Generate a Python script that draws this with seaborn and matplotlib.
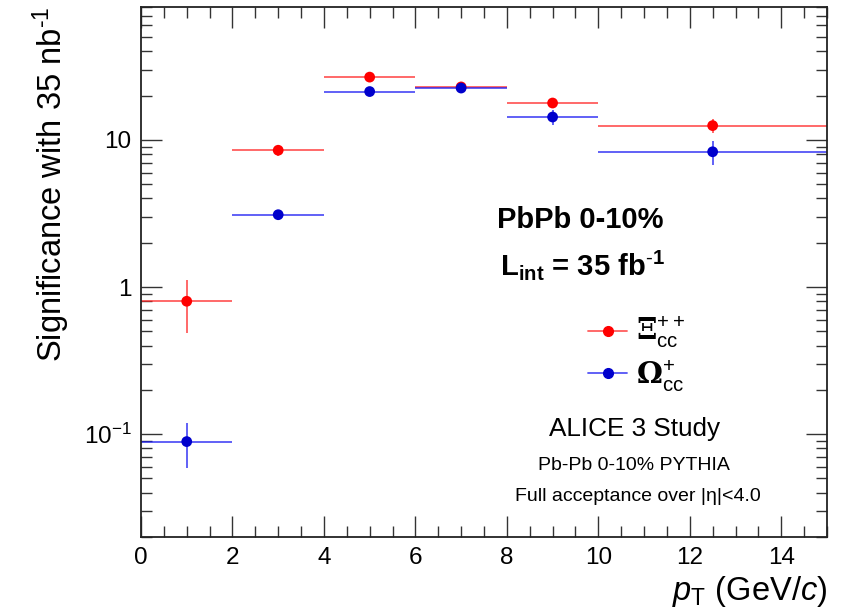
import numpy as np
import pandas as pd
import matplotlib
matplotlib.use("Agg")
import matplotlib.pyplot as plt
from matplotlib.lines import Line2D
from matplotlib.ticker import FixedLocator, MultipleLocator, NullFormatter
import seaborn as sns

# pT bins (GeV/c)
bin_low = [0, 2, 4, 6, 8, 10]
bin_high = [2, 4, 6, 8, 10, 15]
bin_center = [1, 3, 5, 7, 9, 12.5]

# Expected significance per bin
xi_sig = [0.80, 8.5, 26.7, 22.9, 17.8, 12.5]
xi_err = [0.31, 0.7, 1.2, 0.9, 1.3, 1.3]
om_sig = [0.089, 3.1, 21.3, 22.5, 14.3, 8.3]
om_err = [0.030, 0.15, 0.8, 0.9, 1.6, 1.6]

species = ["Xi_cc++", "Omega_cc+"]
# legend labels: serif Greek letter (via \mathsf) with sans sub/superscripts
labels = [r"$\mathsf{Ξ}_{\rm cc}^{++}$", r"$\mathsf{Ω}_{\rm cc}^{+}$"]

sns.set_theme(style="ticks")
plt.rcParams["font.family"] = ["Liberation Sans", "DejaVu Sans"]
plt.rcParams["mathtext.fontset"] = "custom"
plt.rcParams["mathtext.rm"] = "Liberation Sans"
plt.rcParams["mathtext.it"] = "Liberation Sans:italic"
plt.rcParams["mathtext.bf"] = "Liberation Sans:bold"
plt.rcParams["mathtext.sf"] = "DejaVu Serif:bold"
for key in ("text.color", "axes.labelcolor", "xtick.color", "ytick.color"):
    plt.rcParams[key] = "black"

rows = []
for name, sig, err in [(species[0], xi_sig, xi_err), (species[1], om_sig, om_err)]:
    for lo, hi, c, s, e in zip(bin_low, bin_high, bin_center, sig, err):
        rows.append(dict(species=name, lo=lo, hi=hi, pt=c, sig=s, err=e))
df = pd.DataFrame(rows)

palette = {species[0]: "#ff0000", species[1]: "#0000cc"}
line_col = {species[0]: (1.0, 0.15, 0.15, 0.75), species[1]: (0.1, 0.1, 0.95, 0.75)}

fig = plt.figure(figsize=(8.53, 6.13), dpi=100)
ax = fig.add_axes([0.1653, 0.124, 0.9695 - 0.1653, 0.9886 - 0.124])

# horizontal bin-width bars and vertical stat. error bars
for name, sub in df.groupby("species", sort=False):
    ax.errorbar(sub["pt"], sub["sig"],
                xerr=[sub["pt"] - sub["lo"], sub["hi"] - sub["pt"]],
                yerr=sub["err"], fmt="none", ecolor=line_col[name],
                elinewidth=1.3, capsize=0, zorder=2)

sns.scatterplot(data=df, x="pt", y="sig", hue="species", palette=palette,
                s=60, edgecolor="none", ax=ax, legend=False, zorder=3)

ax.set_yscale("log")
ax.set_xlim(0, 15)
ax.set_ylim(0.02, 80)

# ROOT-like ticks on all four sides, pointing inwards
ax.xaxis.set_major_locator(MultipleLocator(2))
ax.xaxis.set_minor_locator(MultipleLocator(0.5))
ax.yaxis.set_major_locator(FixedLocator([0.1, 1, 10]))
minor_y = [m * 10.0 ** d for d in range(-2, 2) for m in range(2, 10)]
ax.yaxis.set_minor_locator(FixedLocator(minor_y))
ax.yaxis.set_minor_formatter(NullFormatter())
ax.set_yticklabels([r"$10^{-1}$", "1", "10"])
ax.tick_params(which="both", direction="in", top=True, right=True,
               color="#333333", labelsize=17.5, width=1.0)
ax.tick_params(which="major", length=15, pad=7)
ax.tick_params(which="minor", length=8)
for sp in ax.spines.values():
    sp.set_linewidth(1.3)
    sp.set_color("#222222")

ax.set_xlabel(r"$p_{\rm T}$ (GeV/$c$)", fontsize=23.5, loc="right", labelpad=4)
ax.set_ylabel(r"Significance with 35 nb$^{\text{-}1}$", fontsize=23.5,
              loc="top", labelpad=8)

# annotations
ax.text(0.640, 0.598, "PbPb 0-10%", transform=ax.transAxes, ha="center",
        va="center", fontsize=21, fontweight="bold")
ax.text(0.643, 0.513, r"$\mathbf{L_{int}}$ = 35 fb$^{\mathbf{\text{-}1}}$",
        transform=ax.transAxes, ha="center", va="center", fontsize=21,
        fontweight="bold")

# legend keys (line through marker); labels are typeset separately below
handles = [Line2D([0], [0], color=line_col[k], marker="o", markersize=7,
                  markerfacecolor=palette[k], markeredgecolor=palette[k],
                  lw=1.3) for k in species]
ax.legend(handles, ["", ""], loc="center left",
          bbox_to_anchor=(0.652, 0.3434), frameon=False, fontsize=20,
          handlelength=1.4, labelspacing=0.58, handletextpad=0.3,
          borderpad=0, borderaxespad=0)

for lab, ybase in zip(labels, [0.3717, 0.2887]):
    ax.text(0.722, ybase, lab, transform=ax.transAxes, ha="left",
            va="baseline", fontsize=21)

ax.text(0.719, 0.204, "ALICE 3 Study", transform=ax.transAxes, ha="center",
        va="center", fontsize=18.8)
ax.text(0.719, 0.134, "Pb-Pb 0-10% PYTHIA", transform=ax.transAxes,
        ha="center", va="center", fontsize=14)
ax.text(0.725, 0.077, "Full acceptance over |η|<4.0", transform=ax.transAxes,
        ha="center", va="center", fontsize=14)

fig.savefig("out.png", dpi=100)
